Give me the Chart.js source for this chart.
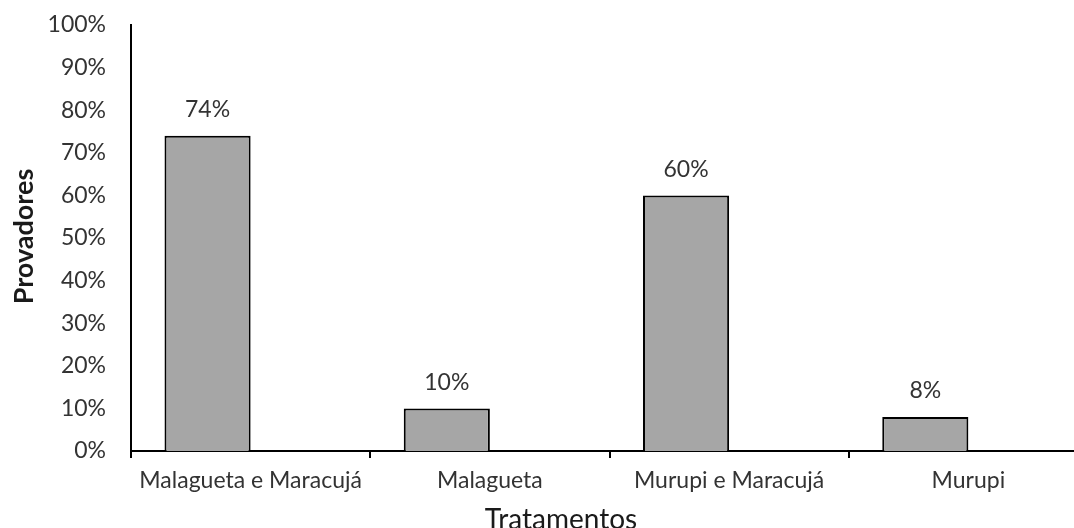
<!DOCTYPE html>
<html>
<head>
<meta charset="utf-8">
<script src="https://cdn.jsdelivr.net/npm/chart.js@4.4.1/dist/chart.umd.min.js"></script>
<style>
  html, body { margin: 0; padding: 0; background: #fff; overflow: hidden; }
  #wrap { position: relative; width: 1088px; height: 528px; }
</style>
</head>
<body>
<div id="wrap"><canvas id="chart"></canvas></div>
<script>
// Treatments and share of tasters (%)
const categories = ['Malagueta e Maracujá', 'Malagueta', 'Murupi e Maracujá', 'Murupi'];
const provadores = [74, 10, 60, 8];
// second (empty) series keeps its slot in each group
const serieVazia = [null, null, null, null];
const yTickValues = [0, 10, 20, 30, 40, 50, 60, 70, 80, 90, 100];

const FONT = 'Lato, "Noto Sans", sans-serif';
const TICK_COLOR = '#333333';
const TITLE_COLOR = '#1a1a1a';

const labelsPlugin = {
  id: 'labelsAndTitles',
  afterDatasetsDraw(chart) {
    const ctx = chart.ctx;
    const meta = chart.getDatasetMeta(0);
    ctx.save();
    ctx.font = '23px ' + FONT;
    ctx.fillStyle = TICK_COLOR;
    ctx.textAlign = 'center';
    ctx.textBaseline = 'middle';
    meta.data.forEach((bar, i) => {
      ctx.fillText(provadores[i] + '%', bar.x, bar.y - 26);
    });
    ctx.restore();
  },
  afterDraw(chart) {
    const ctx = chart.ctx;
    ctx.save();
    ctx.fillStyle = TITLE_COLOR;
    // x axis title
    ctx.font = '28px ' + FONT;
    ctx.textAlign = 'center';
    ctx.textBaseline = 'alphabetic';
    ctx.fillText('Tratamentos', 561, 529);
    // y axis title
    ctx.font = 'bold 27px ' + FONT;
    ctx.translate(33, 236.5);
    ctx.rotate(-Math.PI / 2);
    ctx.fillText('Provadores', 0, 0);
    ctx.restore();
  }
};

new Chart(document.getElementById('chart'), {
  type: 'bar',
  data: {
    labels: categories,
    datasets: [
      {
        data: provadores,
        backgroundColor: '#a6a6a6',
        borderColor: '#000',
        borderWidth: 2,
        categoryPercentage: 0.72,
        barPercentage: 1
      },
      {
        data: serieVazia,
        backgroundColor: '#a6a6a6',
        borderWidth: 0,
        categoryPercentage: 0.72,
        barPercentage: 1
      }
    ]
  },
  options: {
    responsive: true,
    maintainAspectRatio: false,
    animation: false,
    layout: { padding: { top: 25, left: 0, right: 0, bottom: 0 } },
    plugins: {
      legend: { display: false },
      tooltip: { enabled: false }
    },
    scales: {
      x: {
        offset: true,
        grid: {
          display: true,
          offset: true,
          drawOnChartArea: false,
          drawTicks: true,
          tickLength: 7,
          color: '#000',
          lineWidth: 2
        },
        border: { display: true, color: '#000', width: 2 },
        ticks: {
          color: TICK_COLOR,
          font: { family: FONT, size: 23 },
          padding: 9,
          maxRotation: 0,
          autoSkip: false
        },
        afterFit(scale) { scale.height = 77; }
      },
      y: {
        min: 0,
        max: 100,
        afterBuildTicks(scale) {
          scale.ticks = yTickValues.map(v => ({ value: v }));
        },
        grid: { display: false, drawTicks: false },
        border: { display: true, color: '#000', width: 2 },
        ticks: {
          color: TICK_COLOR,
          font: { family: FONT, size: 23 },
          padding: 25,
          callback: (v) => v + '%'
        },
        afterFit(scale) {
          scale.width = 131;
          scale.paddingTop = 0;
          scale.paddingBottom = 0;
        }
      }
    }
  },
  plugins: [labelsPlugin]
});
</script>
</body>
</html>
